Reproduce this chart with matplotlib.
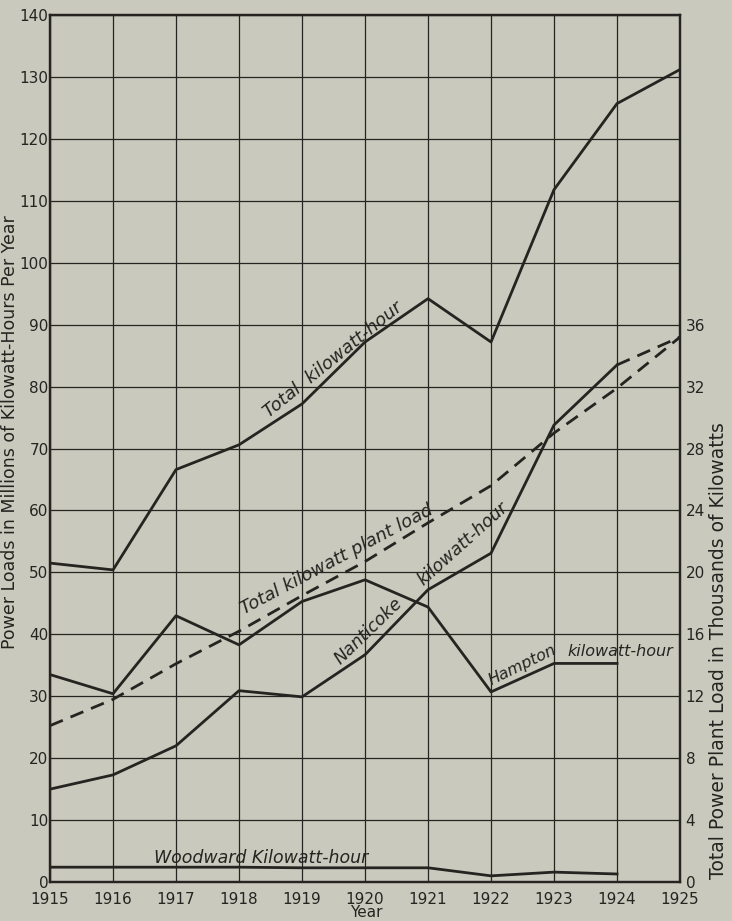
import matplotlib.pyplot as plt
import numpy as np

years = list(range(1915, 1926))

# Millions of kilowatt-hours per year (left axis)
total_kwh = [51.5, 50.4, 66.6, 70.6, 77.2, 87.2, 94.2, 87.2, 111.8, 125.7, 131.2]
nanticoke_kwh = [15.0, 17.3, 22.0, 30.9, 29.9, 36.7, 47.2, 53.1, 73.8, 83.5, 88.0]
hampton_kwh = [33.5, 30.4, 43.0, 38.3, 45.3, 48.8, 44.4, 30.7, 35.3, 35.3]
woodward_kwh = [2.4, 2.4, 2.4, 2.4, 2.3, 2.3, 2.3, 1.0, 1.6, 1.3]

# Thousands of kilowatts (right axis)
plant_load = [10.1, 11.8, 14.1, 16.2, 18.5, 20.7, 23.2, 25.6, 29.0, 31.9, 35.2]

paper = "#c9c9bd"
ink = "#262420"

fig = plt.figure(figsize=(7.32, 9.21), dpi=100, facecolor=paper)
ax = fig.add_axes([0.0683, 0.0423, 0.8607, 0.9414], facecolor=paper)
ax2 = ax.twinx()

ax.set_xlim(1915, 1925)
ax.set_ylim(0, 140)
ax2.set_ylim(0, 56)

ax.set_xticks(years)
ax.set_yticks(range(0, 141, 10))
ax.grid(True, color=ink, linewidth=0.9)
ax.set_axisbelow(True)
ax.tick_params(length=0, colors=ink, labelsize=11)
ax.tick_params(axis="y", pad=1)
ax.tick_params(axis="x", pad=7)
ax2.set_yticks(range(0, 37, 4))
ax2.tick_params(length=0, colors=ink, pad=4, labelsize=11)
for a in (ax, ax2):
    for s in a.spines.values():
        s.set_color(ink)
        s.set_linewidth(1.6)

lw = 2.0
ax.plot(years, total_kwh, color=ink, lw=lw)
ax.plot(years[:10], nanticoke_kwh[:10], color=ink, lw=lw)
ax.plot(years[9:], nanticoke_kwh[9:], color=ink, lw=lw, linestyle=(0, (5, 3)))
ax.plot(years[:10], hampton_kwh, color=ink, lw=lw)
ax.plot(years[:10], woodward_kwh, color=ink, lw=lw)
ax2.plot(years, plant_load, color=ink, lw=lw, linestyle=(0, (5, 3)))

lab = dict(color=ink, fontsize=12.5, style="italic", ha="center", va="center",
           rotation_mode="anchor")
ax.text(1919.5, 84.3, "Total  kilowatt-hour", rotation=39, **{**lab, "fontsize": 13})
ax.text(1919.55, 52.0, "Total kilowatt plant load", rotation=28, **{**lab, "fontsize": 13})
ax.text(1920.05, 40.6, "Nanticoke", rotation=44, **lab)
ax.text(1921.55, 54.6, "kilowatt-hour", rotation=42, **lab)
ax.text(1922.5, 35.0, "Hampton", rotation=26, **{**lab, "fontsize": 11.5})
ax.text(1924.05, 37.3, "kilowatt-hour", **{**lab, "fontsize": 11.5})
ax.text(1918.35, 3.9, "Woodward Kilowatt-hour", **lab)

fig.text(0.5, 0.001, "Year", color=ink, fontsize=11, ha="center", va="bottom")
fig.text(0.013, 0.531, "Power Loads in Millions of Kilowatt-Hours Per Year",
         color=ink, fontsize=12.5, rotation=90, ha="center", va="center")
fig.text(0.981, 0.294, "Total Power Plant Load in Thousands of Kilowatts",
         color=ink, fontsize=13.5, rotation=90, ha="center", va="center")

fig.savefig("out.png", dpi=100, facecolor=paper)
